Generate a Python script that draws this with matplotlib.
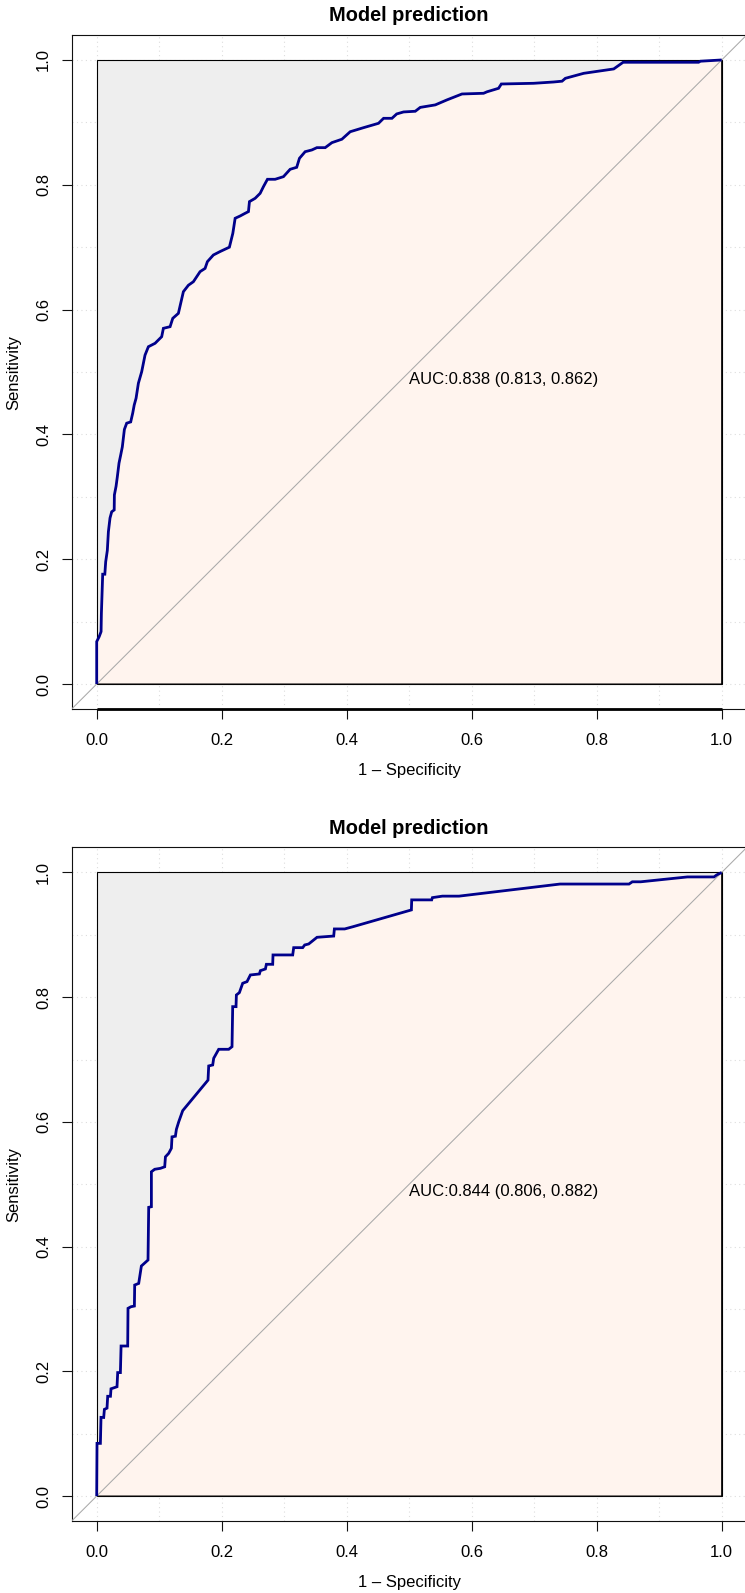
import matplotlib
matplotlib.use("Agg")
import matplotlib.pyplot as plt
from matplotlib.patches import Rectangle
from matplotlib.transforms import offset_copy, blended_transform_factory
import numpy as np

plt.rcParams['font.family'] = ['Liberation Sans', 'DejaVu Sans']

# ---------------- data ----------------
titles = ["Model prediction", "Model prediction"]
auc_labels = ["AUC:0.838 (0.813, 0.862)", "AUC:0.844 (0.806, 0.882)"]
tick_values = [0.0, 0.2, 0.4, 0.6, 0.8, 1.0]
tick_labels = ["0.0", "0.2", "0.4", "0.6", "0.8", "1.0"]
grid_values = [0.0, 0.1, 0.2, 0.3, 0.4, 0.5, 0.6, 0.7, 0.8, 0.9, 1.0]
x_label = "1 \u2013 Specificity"
y_label = "Sensitivity"

# top panel ROC (1 - specificity, sensitivity)
top_fpr = [0.0, 0.0, 0.004, 0.007, 0.0075, 0.0096, 0.013, 0.0144, 0.017, 0.0187,
           0.0213, 0.024, 0.028, 0.0283, 0.031, 0.033, 0.0357, 0.0384, 0.041, 0.0443,
           0.048, 0.0544, 0.0576, 0.060, 0.063, 0.0667, 0.072, 0.0773, 0.0827, 0.0934,
           0.104, 0.1067, 0.1174, 0.1217, 0.1307, 0.135, 0.1387, 0.1467, 0.1547, 0.1654,
           0.1734, 0.1771, 0.1867, 0.1974, 0.2123, 0.2178, 0.2215, 0.2295, 0.2375, 0.2428,
           0.2444, 0.2535, 0.2615, 0.2668, 0.2732, 0.2855, 0.2988, 0.3095, 0.320, 0.3244,
           0.3335, 0.3443, 0.3523, 0.3656, 0.3763, 0.3923, 0.4056, 0.4269, 0.4509, 0.459,
           0.4724, 0.480, 0.491, 0.5097, 0.5177, 0.5417, 0.5604, 0.5845, 0.619, 0.6245,
           0.643, 0.6474, 0.699, 0.731, 0.7446, 0.7499, 0.7792, 0.8272, 0.8423, 0.963,
           0.966, 1.0]
top_tpr = [0.0, 0.068, 0.076, 0.084, 0.113, 0.176, 0.176, 0.196, 0.214, 0.244,
           0.266, 0.276, 0.279, 0.303, 0.317, 0.332, 0.354, 0.367, 0.380, 0.408,
           0.418, 0.420, 0.434, 0.447, 0.458, 0.482, 0.5005, 0.527, 0.5405, 0.546,
           0.5566, 0.570, 0.5726, 0.586, 0.594, 0.6127, 0.6287, 0.639, 0.6447, 0.6608,
           0.666, 0.6768, 0.6875, 0.693, 0.700, 0.7222, 0.7463, 0.750, 0.7543, 0.757,
           0.773, 0.7783, 0.7863, 0.797, 0.8088, 0.8088, 0.813, 0.8248, 0.828, 0.8424,
           0.853, 0.8558, 0.8595, 0.8595, 0.8675, 0.873, 0.885, 0.8915, 0.8985, 0.9065,
           0.9065, 0.9135, 0.9167, 0.9178, 0.924, 0.928, 0.936, 0.9455, 0.9466, 0.949,
           0.9546, 0.9615, 0.9626, 0.9647, 0.966, 0.9706, 0.9786, 0.9856, 0.9963, 0.9963,
           0.998, 1.0]

# bottom panel ROC
bot_fpr = [0.0, 0.0005, 0.0059, 0.0069, 0.0112, 0.0123, 0.0165, 0.0176, 0.022, 0.0229,
           0.0325, 0.0336, 0.0379, 0.039, 0.0496, 0.0501, 0.0549, 0.0603, 0.0608, 0.0672,
           0.0715, 0.0821, 0.0832, 0.0875, 0.0875, 0.0928, 0.1019, 0.1088, 0.110, 0.1152,
           0.1195, 0.1205, 0.1259, 0.1275, 0.1312, 0.1376, 0.1781, 0.1792, 0.1856, 0.1872,
           0.1952, 0.2112, 0.2165, 0.2176, 0.2229, 0.2235, 0.2283, 0.2336, 0.2405, 0.2459,
           0.2603, 0.2619, 0.2699, 0.2715, 0.2816, 0.2821, 0.3136, 0.3152, 0.3296, 0.3328,
           0.3392, 0.3525, 0.3792, 0.3803, 0.3968, 0.4101, 0.5035, 0.504, 0.536, 0.5371,
           0.5531, 0.5797, 0.7413, 0.8517, 0.857, 0.8704, 0.9451, 0.9877, 0.992, 1.0]
bot_tpr = [0.0, 0.0845, 0.0845, 0.1262, 0.126, 0.139, 0.141, 0.160, 0.160, 0.172,
           0.1753, 0.198, 0.198, 0.2406, 0.2406, 0.301, 0.3036, 0.3047, 0.3384, 0.341,
           0.3689, 0.3785, 0.463, 0.464, 0.520, 0.524, 0.5255, 0.528, 0.544, 0.5496,
           0.5577, 0.576, 0.577, 0.588, 0.600, 0.618, 0.667, 0.6897, 0.6913, 0.702,
           0.7164, 0.7164, 0.7206, 0.7848, 0.7848, 0.8035, 0.8073, 0.8223, 0.8249, 0.8356,
           0.8372, 0.8425, 0.8452, 0.8527, 0.8527, 0.8677, 0.8677, 0.8794, 0.8794, 0.8837,
           0.8853, 0.896, 0.898, 0.9094, 0.9094, 0.913, 0.9399, 0.956, 0.956, 0.9596,
           0.962, 0.962, 0.9814, 0.9814, 0.985, 0.985, 0.9928, 0.9928, 0.996, 1.0]

# ---------------- layout ----------------
W, H, DPI = 745, 1593, 100
PX = 72.0 / DPI  # points per pixel

fig = plt.figure(figsize=(W / DPI, H / DPI), dpi=DPI)
fig.patch.set_facecolor('white')


def px_rect(left, top, right, bottom):
    return [left / W, 1 - bottom / H, (right - left) / W, (bottom - top) / H]


panels = [
    dict(rect=px_rect(71.7, 35.0, 746.7, 709.0), fpr=top_fpr, tpr=top_tpr,
         title=titles[0], auc=auc_labels[0], thick=True),
    dict(rect=px_rect(71.7, 847.5, 746.7, 1521.0), fpr=bot_fpr, tpr=bot_tpr,
         title=titles[1], auc=auc_labels[1], thick=False),
]

LO, HI = -0.04, 1.04
FS = 12
CURVE = '#00008B'
GREY_FILL = '#EEEEEE'
AUC_FILL = '#FFF4EE'

for p in panels:
    ax = fig.add_axes(p['rect'])
    ax.set_xlim(LO, HI)
    ax.set_ylim(LO, HI)
    ax.set_facecolor('white')

    # grid
    for g in grid_values:
        ax.axvline(g, color='#DDDDDD', lw=0.8, ls=(0, (1, 3)), zorder=0)
        ax.axhline(g, color='#DDDDDD', lw=0.8, ls=(0, (1, 3)), zorder=0)

    # max AUC polygon
    ax.add_patch(Rectangle((0, 0), 1, 1, facecolor=GREY_FILL, edgecolor='black',
                           lw=0.8, zorder=1))
    # AUC polygon
    fx = list(p['fpr']) + [1.0, 0.0]
    fy = list(p['tpr']) + [0.0, 0.0]
    ax.fill(fx, fy, facecolor=AUC_FILL, edgecolor='black', lw=0.8, zorder=2)

    # identity line
    ax.plot([LO, HI], [LO, HI], color='#A9A9A9', lw=0.75, zorder=3)

    # ROC curve
    ax.plot(p['fpr'], p['tpr'], color=CURVE, lw=2.0, zorder=4,
            solid_joinstyle='miter', solid_capstyle='butt')

    # AUC text
    tr_auc = offset_copy(ax.transData, fig=fig, x=0, y=-11.9 * PX, units='points')
    ax.text(0.5, 0.5, p['auc'], transform=tr_auc, ha='left', va='baseline',
            fontsize=FS, color='black', zorder=6)

    # frame
    for s in ax.spines.values():
        s.set_color('#111111')
        s.set_linewidth(0.8)

    # ticks
    ax.set_xticks(tick_values)
    ax.set_yticks(tick_values)
    ax.set_xticklabels([])
    ax.set_yticklabels([])
    ax.tick_params(direction='out', length=10 * PX, width=0.8, color='#111111')

    if p['thick']:
        ax.plot([0, 1], [LO, LO], color='black', lw=2.0, zorder=7, clip_on=False,
                solid_capstyle='butt')

    bx = blended_transform_factory(ax.transData, ax.transAxes)
    by = blended_transform_factory(ax.transAxes, ax.transData)
    tr_xt = offset_copy(bx, fig=fig, x=0, y=-36 * PX, units='points')
    tr_yt = offset_copy(by, fig=fig, x=-23.7 * PX, y=0, units='points')
    for v, lab in zip(tick_values, tick_labels):
        ax.text(v, 0, lab, transform=tr_xt, ha='center', va='baseline', fontsize=FS,
                clip_on=False)
        ax.text(0, v, lab, transform=tr_yt, ha='center', va='baseline', fontsize=FS,
                rotation=90, rotation_mode='anchor', clip_on=False)

    # axis labels
    tr_xl = offset_copy(bx, fig=fig, x=0, y=-66.5 * PX, units='points')
    ax.text(0.5, 0, x_label, transform=tr_xl, ha='center', va='baseline', fontsize=FS,
            clip_on=False)
    tr_yl = offset_copy(by, fig=fig, x=-53.5 * PX, y=0, units='points')
    ax.text(0, 0.5, y_label, transform=tr_yl, ha='center', va='baseline', fontsize=FS,
            rotation=90, rotation_mode='anchor', clip_on=False)

    # title
    tr_t = offset_copy(ax.transAxes, fig=fig, x=0, y=13.6 * PX, units='points')
    ax.text(0.5, 1.0, p['title'], transform=tr_t, ha='center', va='baseline',
            fontsize=FS * 1.2, fontweight='bold', clip_on=False)

fig.savefig('out.png', dpi=DPI, facecolor='white')
